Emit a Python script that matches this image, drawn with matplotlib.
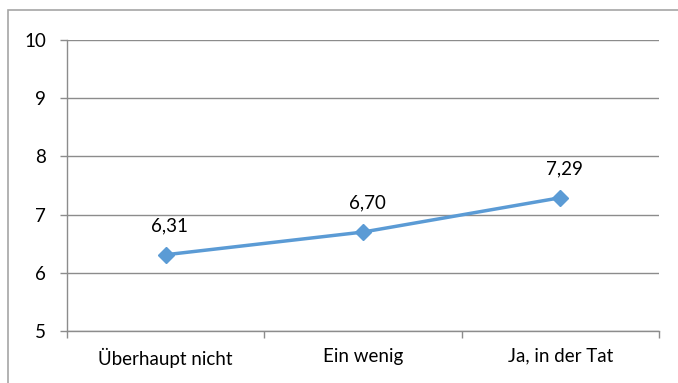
import matplotlib
matplotlib.use('Agg')
import matplotlib.pyplot as plt
from matplotlib.patches import Rectangle
from matplotlib.ticker import FixedLocator

categories = ['Überhaupt nicht', 'Ein wenig', 'Ja, in der Tat']
values = [6.31, 6.70, 7.29]
value_labels = ['6,31', '6,70', '7,29']
y_ticks = [5, 6, 7, 8, 9, 10]

plt.rcParams['font.family'] = ['Lato', 'DejaVu Sans']
fs = 13.5

fig = plt.figure(figsize=(6.78, 3.83), dpi=100)
ax = fig.add_axes([67 / 678, 52 / 383, 592 / 678, 291 / 383])

grid_col = '#8c8c8c'
x = list(range(len(categories)))

ax.plot(x, values, color='#5b9bd5', linewidth=2.5, marker='D', markersize=8,
        markerfacecolor='#5b9bd5', markeredgecolor='#5b9bd5', zorder=3)

for xi, v, lab in zip(x, values, value_labels):
    ax.annotate(lab, (xi, v), textcoords='offset points', xytext=(3, 21),
                ha='center', va='center', fontsize=fs, color='#000000')

ax.set_xlim(-0.5, len(categories) - 0.5)
ax.set_ylim(5, 10)
ax.set_yticks(y_ticks)
ax.set_yticklabels([str(t) for t in y_ticks])
ax.yaxis.grid(True, color=grid_col, linewidth=1)
ax.set_axisbelow(True)

ax.set_xticks(x)
ax.set_xticklabels(categories)
ax.xaxis.set_minor_locator(FixedLocator([i - 0.5 for i in range(len(categories) + 1)]))
ax.tick_params(axis='x', which='major', length=0, pad=12, labelsize=fs)
ax.tick_params(axis='x', which='minor', length=5, width=1, color=grid_col, direction='out')
ax.tick_params(axis='y', length=5, width=1, color=grid_col, pad=10, labelsize=fs)

for s in ['top', 'right']:
    ax.spines[s].set_visible(False)
for s in ['left', 'bottom']:
    ax.spines[s].set_color(grid_col)
    ax.spines[s].set_linewidth(1)

# Rahmen um das ganze Diagramm
fig.patches.append(Rectangle((8 / 678, -0.1), 1.0, 0.1 + 373 / 383,
                             transform=fig.transFigure, fill=False,
                             edgecolor='#a6a6a6', linewidth=1.2))

fig.savefig('out.png', dpi=100)
